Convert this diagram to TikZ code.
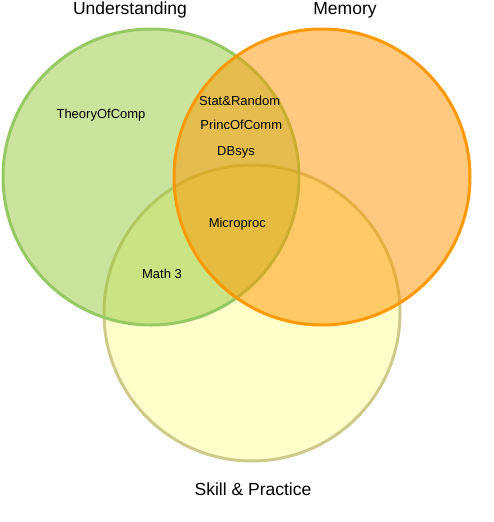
\documentclass[tikz,border=0pt]{standalone}
\usepackage{fontspec}
\setmainfont{Liberation Sans}
\usepackage{tikz}

\definecolor{undfill}{RGB}{150,200,60}
\definecolor{undline}{RGB}{150,200,100}
\definecolor{memfill}{RGB}{255,150,0}
\definecolor{memline}{RGB}{255,153,0}
\definecolor{skifill}{RGB}{255,255,150}
\definecolor{skiline}{RGB}{205,202,140}

\begin{document}
\begin{tikzpicture}[x=1pt,y=-1pt,
  set/.style={draw,circle,minimum size=296pt,inner sep=0pt,line width=3pt,fill opacity=0.5},
  title/.style={font=\fontsize{17.5}{20}\selectfont},
  item/.style={font=\fontsize{13}{15}\selectfont}]
\useasboundingbox (0,0) rectangle (493,522);
\node[set,draw=skiline,fill=skifill] (ski) at (252,313) {};
\node[set,draw=undline,fill=undfill] (und) at (151,177) {};
\node[set,draw=memline,fill=memfill] (mem) at (322,177) {};
\node[title] (undT) at (130,10) {Understanding};
\node[title] (memT) at (345,10) {Memory};
\node[title] (skiT) at (253,489) {Skill \& Practice};
\node[item] (toc) at (101,115) {TheoryOfComp};
\node[item] (sar) at (239.7,101) {Stat\&Random};
\node[item] (poc) at (241.3,124.5) {PrincOfComm};
\node[item] (dbs) at (236,152.5) {DBsys};
\node[item] (mic) at (237.3,224.5) {Microproc};
\node[item] (m3) at (162,274) {Math 3};
\end{tikzpicture}
\end{document}
